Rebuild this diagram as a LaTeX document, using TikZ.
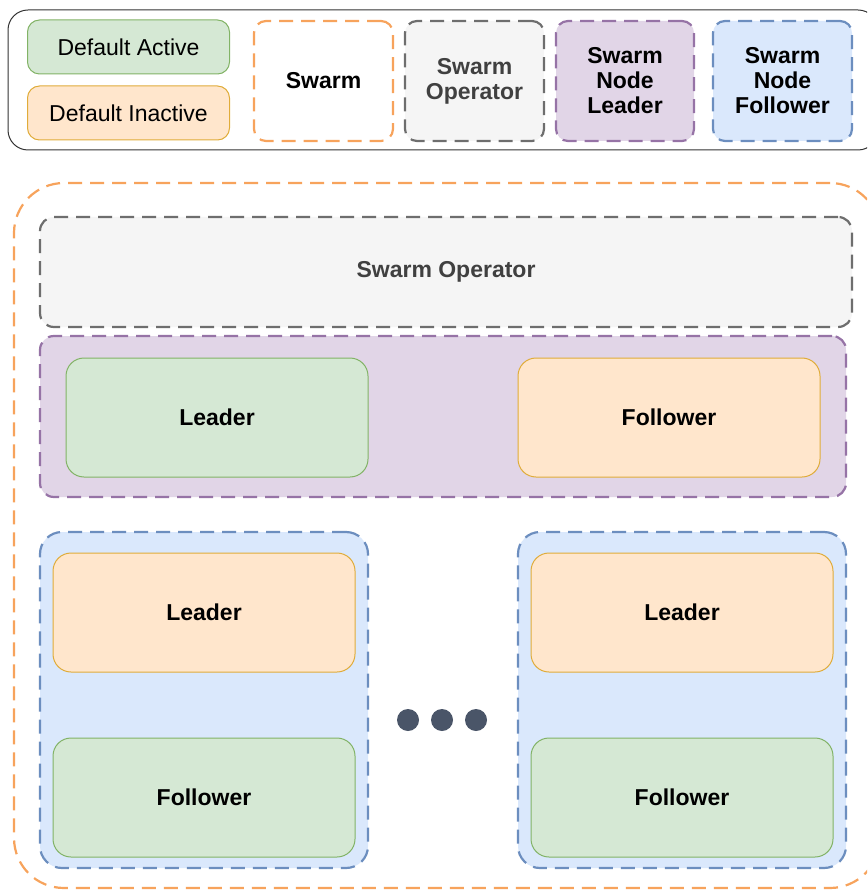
\documentclass[tikz,border=0pt]{standalone}
\usepackage{fontspec}
\setmainfont{Liberation Sans}
\definecolor{activefill}{HTML}{D5E8D4}
\definecolor{activeline}{HTML}{82B366}
\definecolor{inactivefill}{HTML}{FFE6CC}
\definecolor{inactiveline}{HTML}{E0AC3A}
\definecolor{swarmline}{HTML}{F7A35C}
\definecolor{operatorfill}{HTML}{F5F5F5}
\definecolor{operatorline}{HTML}{6E6E6E}
\definecolor{operatortext}{HTML}{404040}
\definecolor{leaderfill}{HTML}{E1D5E7}
\definecolor{leaderline}{HTML}{9673A6}
\definecolor{followerfill}{HTML}{DAE8FC}
\definecolor{followerline}{HTML}{6C8EBF}
\definecolor{dotcolor}{HTML}{4A5568}
\tikzset{
  box/.style={rectangle, rounded corners=12pt, inner sep=0pt, align=center,
    font=\fontsize{23}{25}\selectfont},
  boldbox/.style={font=\bfseries\fontsize{23}{25}\selectfont},
  dashbox/.style={box, draw, line width=2.2pt, dash pattern=on 14pt off 8pt},
  activebox/.style={box, draw=activeline, fill=activefill, line width=1pt},
  inactivebox/.style={box, draw=inactiveline, fill=inactivefill, line width=1pt},
  swarmbox/.style={dashbox, draw=swarmline, fill=white},
  operatorbox/.style={dashbox, draw=operatorline, fill=operatorfill, text=operatortext},
  leaderbox/.style={dashbox, draw=leaderline, fill=leaderfill},
  followerbox/.style={dashbox, draw=followerline, fill=followerfill},
  dot/.style={circle, fill=dotcolor, minimum size=22pt, inner sep=0pt}
}
\begin{document}
\begin{tikzpicture}[x=1pt,y=-1pt]
	\clip (0,0) rectangle (867,890);

	% legend
	\node[box, draw=black!80, line width=1pt, rounded corners=20pt, minimum width=870pt, minimum height=140pt] (legend) at (443,80) {};
	\node[activebox, minimum width=202pt, minimum height=54pt] (legactive) at (128.5,47) {Default Active};
	\node[inactivebox, minimum width=202pt, minimum height=54pt] (leginactive) at (128.5,113) {Default Inactive};
	\node[swarmbox, boldbox, minimum width=139pt, minimum height=120pt] (legswarm) at (323.5,81) {Swarm};
	\node[operatorbox, boldbox, minimum width=139pt, minimum height=120pt] (legoperator) at (474.5,81) {Swarm\\Operator};
	\node[leaderbox, boldbox, minimum width=138pt, minimum height=120pt] (legleader) at (625,81) {Swarm\\Node\\Leader};
	\node[followerbox, boldbox, minimum width=139pt, minimum height=120pt] (legfollower) at (782.5,81) {Swarm\\Node\\Follower};

	% swarm
	\node[swarmbox, rounded corners=50pt, minimum width=866pt, minimum height=705pt] (swarm) at (447,535.5) {};
	\node[operatorbox, boldbox, rounded corners=14pt, minimum width=812pt, minimum height=110pt] (operator) at (446,272) {Swarm Operator};

	% node leader
	\node[leaderbox, rounded corners=14pt, minimum width=806pt, minimum height=161pt] (nodeleader) at (443,416.5) {};
	\node[activebox, boldbox, rounded corners=18pt, minimum width=302pt, minimum height=119pt] (nlleader) at (217,417.5) {Leader};
	\node[inactivebox, boldbox, rounded corners=18pt, minimum width=302pt, minimum height=119pt] (nlfollower) at (669,417.5) {Follower};

	% node followers
	\node[followerbox, rounded corners=22pt, minimum width=328pt, minimum height=336pt] (nodefollowera) at (204,700) {};
	\node[inactivebox, boldbox, rounded corners=18pt, minimum width=302pt, minimum height=119pt] (nfaleader) at (204,612.5) {Leader};
	\node[activebox, boldbox, rounded corners=18pt, minimum width=302pt, minimum height=119pt] (nfafollower) at (204,797.5) {Follower};

	\node[followerbox, rounded corners=22pt, minimum width=328pt, minimum height=336pt] (nodefollowerb) at (682,700) {};
	\node[inactivebox, boldbox, rounded corners=18pt, minimum width=302pt, minimum height=119pt] (nfbleader) at (682,612.5) {Leader};
	\node[activebox, boldbox, rounded corners=18pt, minimum width=302pt, minimum height=119pt] (nfbfollower) at (682,797.5) {Follower};

	% more nodes
	\foreach \i/\x in {1/408,2/442,3/476}
		\node[dot] (more\i) at (\x,720) {};
\end{tikzpicture}
\end{document}
